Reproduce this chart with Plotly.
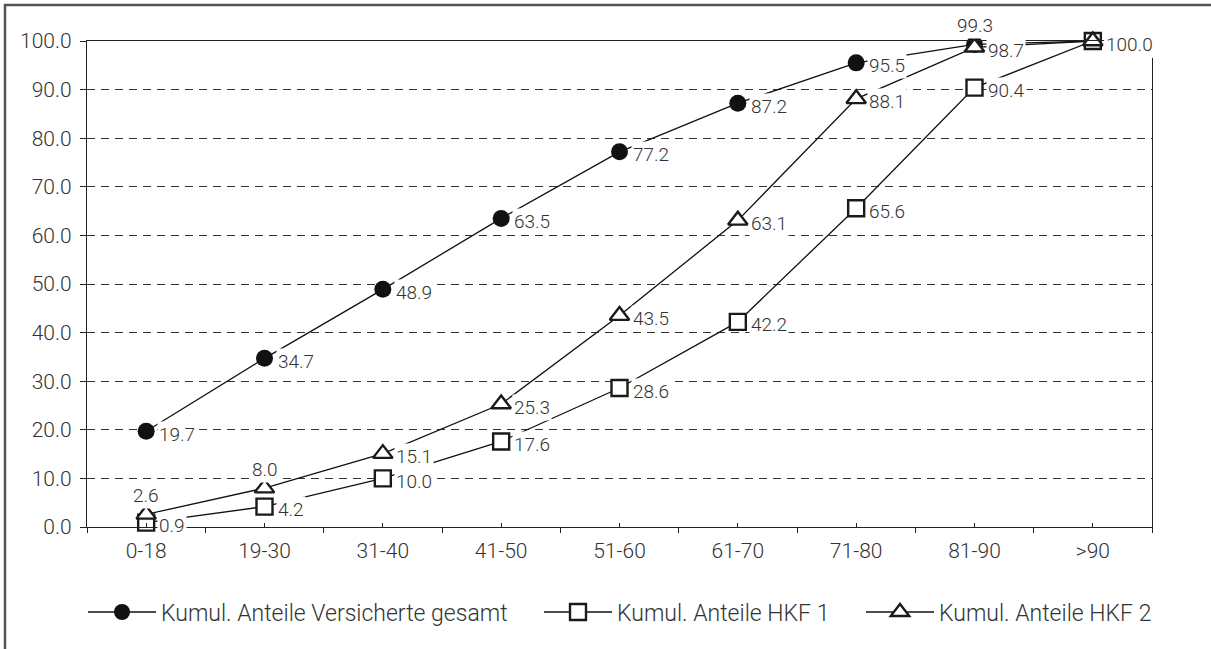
import plotly.graph_objects as go

categories = ["0-18", "19-30", "31-40", "41-50", "51-60", "61-70", "71-80", "81-90", ">90"]
gesamt = [19.7, 34.7, 48.9, 63.5, 77.2, 87.2, 95.5, 99.3, 100.0]
hkf1 = [0.9, 4.2, 10.0, 17.6, 28.6, 42.2, 65.6, 90.4, 100.0]
hkf2 = [2.6, 8.0, 15.1, 25.3, 43.5, 63.1, 88.1, 98.7, 100.0]
names = ["Kumul. Anteile Versicherte gesamt", "Kumul. Anteile HKF 1", "Kumul. Anteile HKF 2"]

FONT = "Roboto Light, Roboto"
TXT = "#333333"

fig = go.Figure()

fig.add_trace(go.Scatter(
    x=categories, y=gesamt, name=names[0], mode="lines+markers", cliponaxis=False,
    legend="legend",
    line=dict(color="#111111", width=1.3),
    marker=dict(symbol="circle", size=17, color="#111111", line=dict(width=0)),
))
fig.add_trace(go.Scatter(
    x=categories, y=hkf1, name=names[1], mode="lines+markers", cliponaxis=False,
    legend="legend2",
    line=dict(color="#111111", width=1.3),
    marker=dict(symbol="square", size=16, color="white", line=dict(color="#1a1a1a", width=2.4)),
))
fig.add_trace(go.Scatter(
    x=categories, y=hkf2, name=names[2], mode="lines+markers", cliponaxis=False,
    legend="legend3",
    line=dict(color="#111111", width=1.3),
    marker=dict(symbol="triangle-up", size=17, color="white", line=dict(color="#1a1a1a", width=2.4)),
))
# helper trace for the secondary x axis (centre ticks)
fig.add_trace(go.Scatter(x=categories, y=[None] * len(categories), xaxis="x2",
                         showlegend=False, hoverinfo="skip", mode="markers"))

# value labels
above = {(0, 7), (2, 0), (2, 1)}
for si, series in enumerate([gesamt, hkf1, hkf2]):
    for i, v in enumerate(series):
        if (si, i) in above:
            fig.add_annotation(x=categories[i], y=v, text=f"{v:.1f}", showarrow=False,
                               xanchor="center", yanchor="middle", yshift=19,
                               bgcolor="white", borderpad=1,
                               font=dict(family=FONT, size=19, color=TXT))
        else:
            fig.add_annotation(x=categories[i], y=v, text=f"{v:.1f}", showarrow=False,
                               xanchor="left", yanchor="middle", xshift=11, yshift=-3,
                               bgcolor="white", borderpad=1,
                               font=dict(family=FONT, size=19, color=TXT))

# outer frame
fig.add_shape(type="rect", xref="paper", yref="paper", x0=-0.077, x1=1.3, y0=-0.5, y1=1.074,
              line=dict(color="#555555", width=2.5), fillcolor="rgba(0,0,0,0)", layer="above")

leg = dict(orientation="h", xanchor="left", y=-0.175, yanchor="middle",
           font=dict(family=FONT, size=23, color=TXT), itemwidth=68,
           bgcolor="rgba(0,0,0,0)")

fig.update_layout(
    width=1211, height=649,
    margin=dict(l=87, r=59, t=41, b=122, autoexpand=False),
    paper_bgcolor="white", plot_bgcolor="white",
    font=dict(family=FONT, size=20, color=TXT),
    showlegend=True,
    legend=dict(leg, x=(83 - 87) / 1065),
    legend2=dict(leg, x=(539 - 87) / 1065),
    legend3=dict(leg, x=(861 - 87) / 1065),
    xaxis=dict(type="category", categoryorder="array", categoryarray=categories,
               range=[-0.5, 8.5], showline=True, linecolor="#222222", linewidth=1.3, mirror=True,
               ticks="outside", tickson="boundaries", ticklen=5, tickcolor="#222222",
               showgrid=False, zeroline=False, automargin=False,
               tickfont=dict(family=FONT, size=21, color=TXT), ticklabelstandoff=5),
    xaxis2=dict(type="category", categoryorder="array", categoryarray=categories,
                overlaying="x", matches="x", anchor="y", side="bottom",
                ticks="inside", ticklen=4, tickcolor="#222222", showticklabels=False,
                showgrid=False, showline=False, zeroline=False),
    yaxis=dict(range=[0, 100], tick0=0, dtick=10, tickformat=".1f",
               showline=True, linecolor="#222222", linewidth=1.3, mirror=True,
               ticks="outside", ticklen=6, tickcolor="#222222",
               showgrid=True, gridcolor="#333333", gridwidth=1, griddash="8px,6px",
               zeroline=False, automargin=False,
               tickfont=dict(family=FONT, size=21, color=TXT), ticklabelstandoff=4),
)

fig.write_html("out.html")
